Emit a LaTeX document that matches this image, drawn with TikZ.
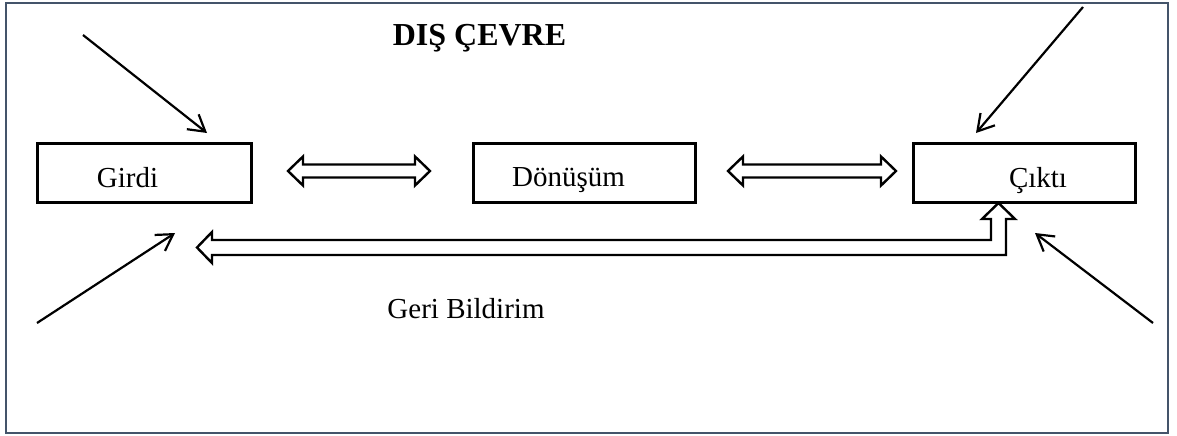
\documentclass[tikz,border=0pt]{standalone}
\usepackage{fontspec}
\setmainfont{Liberation Serif}
\usetikzlibrary{arrows.meta}
\definecolor{framec}{RGB}{68,84,106}
\begin{document}
\begin{tikzpicture}[x=1pt,y=-1pt,
  box/.style={draw, line width=2.5pt, minimum height=59pt, inner sep=0pt},
  lbl/.style={font=\fontsize{29}{34}\selectfont, inner sep=0pt, anchor=base},
  titlelbl/.style={font=\fontsize{32}{38}\selectfont\bfseries, inner sep=0pt, anchor=base},
  blockarrow/.style={draw, line width=2.4pt, line join=miter, fill=white},
  inarrow/.style={line width=2.2pt, -{Straight Barb[length=16pt, width=19pt, line width=2.2pt]}}
]
\useasboundingbox (0,0) rectangle (1177,436);
\draw[framec, line width=2.3pt] (6,3) rectangle (1168,433);

% boxes
\node[box, minimum width=214pt] (girdi) at (144.5,173) {};
\node[box, minimum width=222pt] (donusum) at (584.5,173) {};
\node[box, minimum width=222pt] (cikti) at (1024.5,173) {};

\node[lbl] (tgirdi) at (127.5,187) {Girdi};
\node[lbl] (tdonusum) at (568.5,186) {Dönüşüm};
\node[lbl] (tcikti) at (1038,187) {Çıktı};

\node[titlelbl] (title) at (479.5,46) {DIŞ ÇEVRE};
\node[lbl] (geri) at (466,318) {Geri Bildirim};

% double block arrows
\draw[blockarrow] (288,171) -- (303,156.5) -- (303,164.5) -- (415,164.5) -- (415,156.5)
  -- (430,171) -- (415,185.5) -- (415,177.5) -- (303,177.5) -- (303,185.5) -- cycle;
\draw[blockarrow] (728,171) -- (743,156.5) -- (743,164.5) -- (881,164.5) -- (881,156.5)
  -- (896,171) -- (881,185.5) -- (881,177.5) -- (743,177.5) -- (743,185.5) -- cycle;

% feedback bent arrow
\draw[blockarrow] (197,247.5) -- (212,232) -- (212,240) -- (991,240) -- (991,219)
  -- (982,219) -- (998.5,203) -- (1015,219) -- (1006,219) -- (1006,255)
  -- (212,255) -- (212,263) -- cycle;

% environment arrows
\coordinate (a1s) at (83,35);   \coordinate (a1e) at (207,133);
\coordinate (a2s) at (37,323);  \coordinate (a2e) at (175,233);
\coordinate (a3s) at (1083,7);  \coordinate (a3e) at (976,133);
\coordinate (a4s) at (1153,323);\coordinate (a4e) at (1035,233);
\draw[inarrow] (a1s) -- (a1e);
\draw[inarrow] (a2s) -- (a2e);
\draw[inarrow] (a3s) -- (a3e);
\draw[inarrow] (a4s) -- (a4e);
\end{tikzpicture}
\end{document}
